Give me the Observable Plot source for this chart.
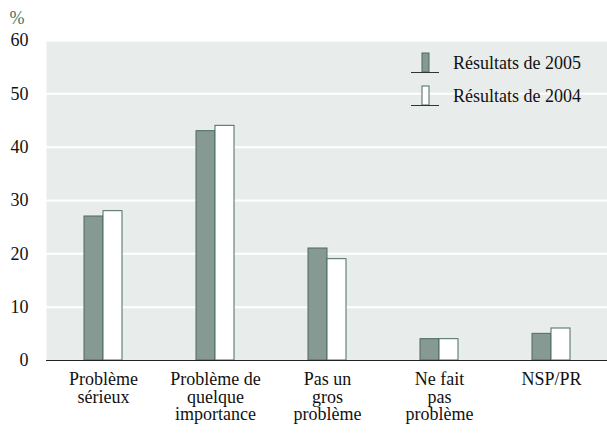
<!DOCTYPE html>
<html><head><meta charset="utf-8">
<script src="https://cdn.jsdelivr.net/npm/d3@7"></script>
<script src="https://cdn.jsdelivr.net/npm/@observablehq/plot@0.6"></script>
<style>
body{margin:0;background:#fff;}
#wrap{position:relative;width:607px;height:433px;}
#legend{position:absolute;left:0;top:0;}
</style></head>
<body><div id="wrap"></div>
<script>
const categories = ["Problème\nsérieux","Problème de\nquelque\nimportance","Pas un\ngros\nproblème","Ne fait\npas\nproblème","NSP/PR"];
const values2005 = [27, 43, 21, 4, 5];
const values2004 = [28, 44, 19, 4, 6];
const seriesNames = ["Résultats de 2005","Résultats de 2004"];
const yTicks = [0,10,20,30,40,50,60];

const serif = "'Liberation Serif', 'Times New Roman', serif";
const fs = 18;
const darkFill = "#869993", darkStroke = "#4b6b63", bg = "#e8ecea";
const d05 = categories.map((c,i)=>({cat:c, v:values2005[i]}));
const d04 = categories.map((c,i)=>({cat:c, v:values2004[i]}));

const chart = Plot.plot({
  width: 607, height: 433,
  marginTop: 40, marginBottom: 73, marginLeft: 46, marginRight: 0,
  style: {fontFamily: serif, fontSize: fs + "px", color: "#111", background: "transparent"},
  x: {domain: categories, padding: 0, label: null},
  y: {domain: [0, 60], label: null},
  marks: [
    Plot.frame({fill: bg, stroke: null}),
    Plot.ruleY(yTicks.filter(t=>t>0), {stroke: "#fff", strokeWidth: 2}),
    Plot.barY(d05, {x: "cat", y: "v", fill: darkFill, stroke: darkStroke, strokeWidth: 1, insetLeft: 37, insetRight: 56}),
    Plot.barY(d04, {x: "cat", y: "v", fill: "#fff", stroke: darkStroke, strokeWidth: 1, insetLeft: 56, insetRight: 37}),
    Plot.ruleY([0], {stroke: "#222", strokeWidth: 1.2}),
    Plot.axisY({ticks: yTicks, tickSize: 0, tickPadding: 18, fontSize: fs, fontFamily: serif, label: null}),
    Plot.axisX({tickSize: 0, tickPadding: 12, fontSize: fs, fontFamily: serif, lineHeight: 0.98, label: null}),
    Plot.text(["%"], {frameAnchor: "top-left", dx: -37, dy: -29, fill: "#3f7768", fontSize: fs, fontFamily: serif, textAnchor: "start"})
  ]
});
const wrap = document.getElementById("wrap");
wrap.appendChild(chart);

// legend overlay
const leg = d3.select(wrap).append("svg").attr("id","legend").attr("width",607).attr("height",433);
const items = [
  {name: seriesNames[0], fill: darkFill, top: 53, base: 72, cy: 63},
  {name: seriesNames[1], fill: "#fff", top: 86, base: 105, cy: 96}
];
for (const it of items) {
  leg.append("rect").attr("x",422).attr("y",it.top).attr("width",7).attr("height",it.base-it.top)
    .attr("fill",it.fill).attr("stroke",darkStroke);
  leg.append("line").attr("x1",411).attr("x2",439).attr("y1",it.base+0.5).attr("y2",it.base+0.5)
    .attr("stroke","#333").attr("stroke-width",1);
  leg.append("text").attr("x",453).attr("y",it.cy).attr("dy","0.35em")
    .style("font-family",serif).attr("font-size",fs).attr("fill","#111")
    .text(it.name);
}
</script></body></html>
